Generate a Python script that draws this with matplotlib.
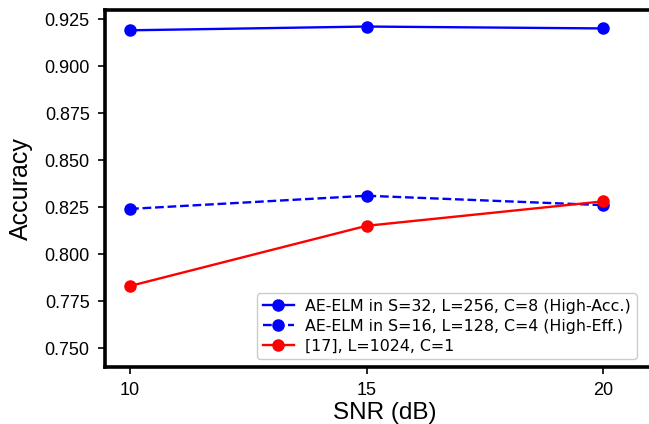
import matplotlib
matplotlib.use("Agg")
import matplotlib.pyplot as plt

snr = [10, 15, 20]
acc_high = [0.919, 0.921, 0.920]
acc_eff = [0.824, 0.831, 0.826]
acc_ref = [0.783, 0.815, 0.828]
labels = ["AE-ELM in S=32, L=256, C=8 (High-Acc.)",
          "AE-ELM in S=16, L=128, C=4 (High-Eff.)",
          "[17], L=1024, C=1"]
yticks = [0.750, 0.775, 0.800, 0.825, 0.850, 0.875, 0.900, 0.925]
xticks = [10, 15, 20]

plt.rcParams['font.family'] = ['Liberation Sans', 'DejaVu Sans']

fig = plt.figure(figsize=(6.49, 4.24), dpi=100)
W, H = 649, 424
left, right, top, bottom = 105, 665, 10, 367
ax = fig.add_axes([left / W, 1 - bottom / H, (right - left) / W, (bottom - top) / H])

ax.plot(snr, acc_high, '-o', color='blue', lw=1.7, ms=8, label=labels[0])
ax.plot(snr, acc_eff, '--o', color='blue', lw=1.7, ms=8, label=labels[1])
ax.plot(snr, acc_ref, '-o', color='red', lw=1.7, ms=8, label=labels[2])

ax.set_xlim(9.47, 10 + (right - 130) / 47.3)
ax.set_ylim(0.7399, 0.9298)
ax.set_xticks(xticks)
ax.set_yticks(yticks)
ax.set_yticklabels([f"{v:.3f}" for v in yticks])
ax.tick_params(labelsize=13, width=1.2, length=5, pad=6)
for s in ax.spines.values():
    s.set_linewidth(2.6)

ax.set_xlabel("SNR (dB)", fontsize=17.5, labelpad=2)
ax.set_ylabel("Accuracy", fontsize=18, labelpad=8)

leg = ax.legend(loc='lower left', bbox_to_anchor=((257 - left) / (right - left), (367 - 359) / (bottom - top)),
                prop={'family': ['DejaVu Sans'], 'size': 11.4}, handlelength=2.0, borderpad=0.35,
                labelspacing=0.3, handletextpad=0.7, borderaxespad=0.0, framealpha=1.0)
leg.get_frame().set_edgecolor('#cccccc')

fig.savefig("out.png", dpi=100)
